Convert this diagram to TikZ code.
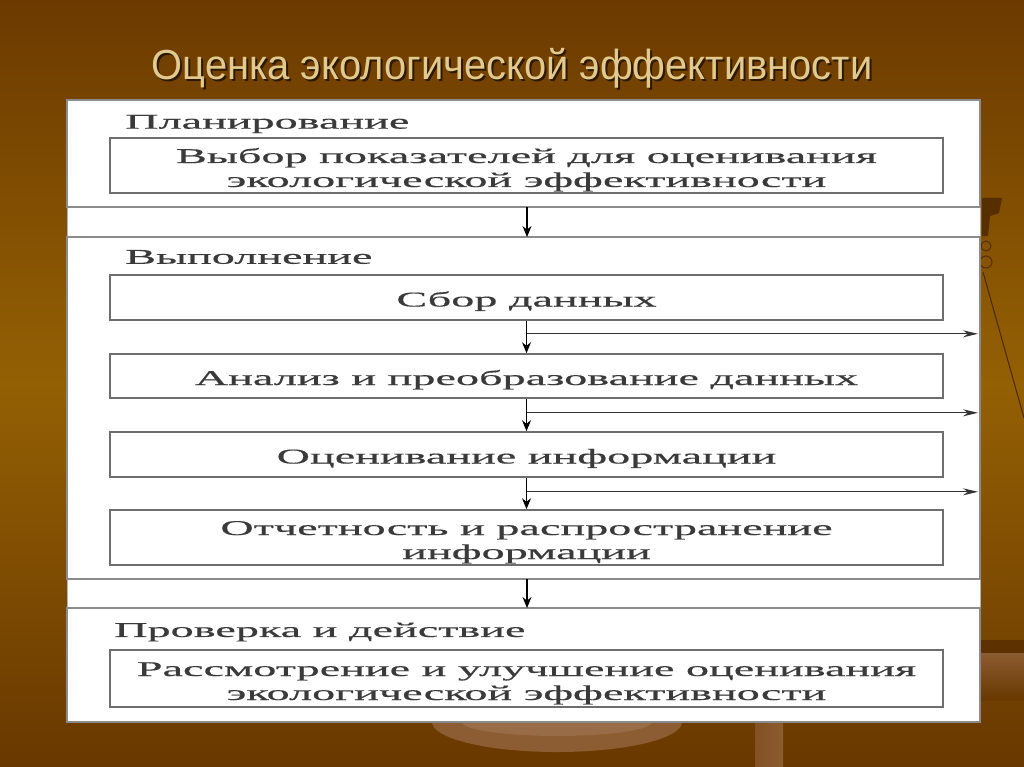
\documentclass[tikz,border=0pt]{standalone}
\usepackage{fontspec}
\usepackage{tikz}
\usetikzlibrary{arrows.meta,positioning,calc}
\setmainfont{Liberation Serif}
\newfontfamily\titlefont[FakeStretch=0.95]{Liberation Sans}
\newfontfamily\schemefont[FakeStretch=2.2, FakeBold=0.5]{Liberation Serif}
\definecolor{slidetop}{RGB}{108,58,0}
\definecolor{slidemid}{RGB}{148,96,4}
\definecolor{slidebottom}{RGB}{104,56,0}
\definecolor{titletan}{RGB}{226,202,142}
\definecolor{titleshadow}{RGB}{45,24,0}
\definecolor{schemetext}{RGB}{58,58,58}
\definecolor{schemeline}{RGB}{110,110,110}
\definecolor{decolight}{RGB}{140,92,50}

\begin{document}
\begin{tikzpicture}[x=1pt, y=-1pt,
    section/.style={draw=schemeline!80, line width=1.2pt},
    block/.style={rectangle, draw=schemeline, line width=1.6pt, fill=white, minimum width=833pt, inner sep=0pt, align=center, font=\schemefont\fontsize{21}{24}\selectfont, text=schemetext},
    oneline/.style={block, text height=23pt, text depth=5pt},
    twoline/.style={block, text height=48pt, text depth=5pt},
    caption/.style={anchor=west, inner sep=0pt, font=\schemefont\fontsize{21}{24}\selectfont, text=schemetext},
    arrow/.style={-{Stealth[length=11pt, width=9pt]}, line width=1.2pt, black},
    sidearrow/.style={-{Stealth[length=15pt, width=7pt]}, line width=1.3pt, black!80}]

    % slide background
    \useasboundingbox (0,0) rectangle (1024,767);
    \shade[top color=slidetop, bottom color=slidebottom, middle color=slidemid] (0,0) rectangle (1024,767);
    \fill[decolight] (557,722) ellipse (125 and 30);
    \fill[decolight!80!white, opacity=0.5] (557,722) ellipse (95 and 14);
    \shade[left color=decolight!70!slidebottom, right color=decolight] (755,722) rectangle (783,767);
    \fill[slidetop!80!black] (982,198) -- (1002,198) -- (999,213) -- (990,216) -- (988,236) -- (982,236) -- cycle;
    \draw[slidetop!80!black, line width=1pt] (986,246) circle (5) (986,262) circle (6);
    \draw[slidetop!70!black, line width=1pt] (983,272) -- (1024,418);
    \fill[slidebottom!90!black] (980,640) rectangle (1024,653);
    \shade[top color=decolight, bottom color=slidebottom] (980,653) rectangle (1024,700);

    % title
    \node[font=\titlefont\fontsize{42}{46}\selectfont, text=titleshadow] (titleshadow) at (514,70) {Оценка экологической эффективности};
    \node[font=\titlefont\fontsize{42}{46}\selectfont, text=titletan] (title) at (512,68) {Оценка экологической эффективности};

    % panel with the three stages
    \fill[white, draw=gray!60, line width=1pt] (67,100) rectangle (980,722);
    \draw[section] (67,100) rectangle (980,207);
    \draw[section] (67,237) rectangle (980,579);
    \draw[section] (67,608) rectangle (980,722);
    \coordinate (sec1s) at (527,207);
    \coordinate (sec2n) at (527,237);
    \coordinate (sec2s) at (527,579);
    \coordinate (sec3n) at (527,608);
    \coordinate (rightedge) at (978,0);

    \node[caption] (plan) at (125,124) {Планирование};
    \node[twoline, minimum height=55pt] (choose) at (526.5,165.5) {Выбор показателей для оценивания\\экологической эффективности};

    \node[caption] (do) at (125,257) {Выполнение};
    \node[oneline, minimum height=45pt] (collect) at (526.5,297.5) {Сбор данных};
    \node[oneline, minimum height=44pt] (analyse) at (526.5,376) {Анализ и преобразование данных};
    \node[oneline, minimum height=45pt] (assess) at (526.5,454.5) {Оценивание информации};
    \node[twoline, minimum height=55pt] (report) at (526.5,537.5) {Отчетность и распространение\\информации};

    \node[caption] (check) at (114,632) {Проверка и действие};
    \node[twoline, minimum height=57pt] (review) at (526.5,678.5) {Рассмотрение и улучшение оценивания\\экологической эффективности};

    % arrows
    \draw[arrow] (sec1s) -- (sec2n);
    \draw[arrow] (collect) -- (analyse);
    \draw[arrow] (analyse) -- (assess);
    \draw[arrow] (assess) -- (report);
    \draw[arrow] (sec2s) -- (sec3n);

    \coordinate (fork1) at ([yshift=-13pt]collect.south);
    \coordinate (fork2) at ([yshift=-14pt]analyse.south);
    \coordinate (fork3) at ([yshift=-14pt]assess.south);
    \draw[sidearrow] (fork1) -- (fork1 -| rightedge);
    \draw[sidearrow] (fork2) -- (fork2 -| rightedge);
    \draw[sidearrow] (fork3) -- (fork3 -| rightedge);
\end{tikzpicture}
\end{document}
